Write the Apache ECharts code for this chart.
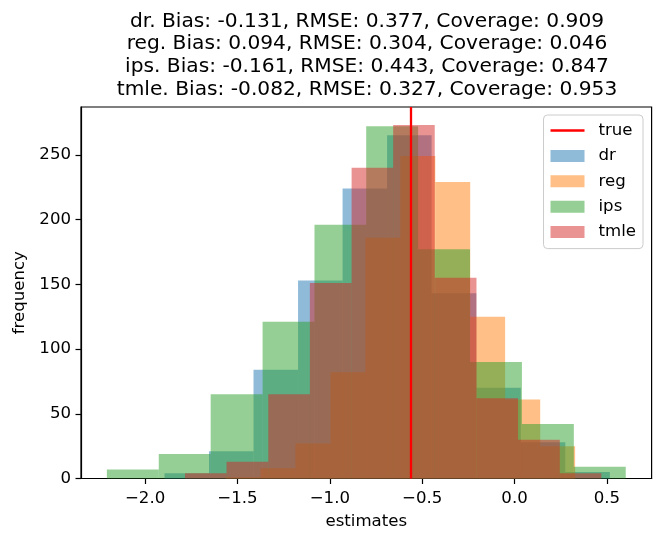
<!DOCTYPE html>
<html>
<head>
<meta charset="utf-8">
<script src="https://cdn.jsdelivr.net/npm/echarts@6/dist/echarts.min.js"></script>
<style>
  html, body { margin: 0; padding: 0; background: #ffffff; }
  #chart { width: 664px; height: 543px; }
</style>
</head>
<body>
<div id="chart"></div>
<script>
// ---- data ----
const titleLines = [
  'dr. Bias: -0.131, RMSE: 0.377, Coverage: 0.909',
  'reg. Bias: 0.094, RMSE: 0.304, Coverage: 0.046',
  'ips. Bias: -0.161, RMSE: 0.443, Coverage: 0.847',
  'tmle. Bias: -0.082, RMSE: 0.327, Coverage: 0.953'
];
const trueValue = -0.56;
const xTicks = [-2.0, -1.5, -1.0, -0.5, 0.0, 0.5];
const yTicks = [0, 50, 100, 150, 200, 250];

const drEdges   = [-1.895, -1.654, -1.413, -1.172, -0.931, -0.690, -0.449, -0.207, 0.034, 0.275, 0.516];
const drCounts  = [4, 21, 84, 153, 224, 265, 143, 70, 28, 5];

const regEdges  = [-1.564, -1.375, -1.186, -0.996, -0.807, -0.618, -0.429, -0.240, -0.051, 0.139, 0.328];
const regCounts = [1, 8, 27, 82, 186, 249, 229, 125, 61, 25];

const ipsEdges  = [-2.207, -1.926, -1.645, -1.364, -1.083, -0.803, -0.522, -0.241, 0.040, 0.321, 0.602];
const ipsCounts = [7, 19, 65, 121, 196, 272, 177, 90, 42, 9];

const tmleEdges  = [-1.784, -1.559, -1.333, -1.108, -0.882, -0.657, -0.432, -0.206, 0.019, 0.245, 0.470];
const tmleCounts = [4, 13, 65, 151, 240, 273, 155, 62, 30, 4];

// ---- chart ----
const FONT = 'DejaVu Sans';
const FS = 16.6;
function bins(edges, counts) {
  return counts.map((c, i) => [edges[i], edges[i + 1], c]);
}
function renderBar(params, api) {
  const top = api.coord([api.value(0), api.value(2)]);
  const bot = api.coord([api.value(1), 0]);
  return {
    type: 'rect',
    shape: { x: top[0], y: top[1], width: bot[0] - top[0], height: bot[1] - top[1] },
    style: api.style()
  };
}
function histSeries(name, color, edges, counts) {
  return {
    name: name,
    type: 'custom',
    renderItem: renderBar,
    itemStyle: { color: color },
    encode: { x: [0, 1], y: 2 },
    data: bins(edges, counts),
    silent: true
  };
}
const fmtX = v => v.toFixed(1).replace('-', '\u2212');

const chart = echarts.init(document.getElementById('chart'), null, { renderer: 'canvas' });
chart.setOption({
  animation: false,
  backgroundColor: '#ffffff',
  title: {
    text: titleLines.join('\n'),
    left: 367,
    top: 10,
    padding: 0,
    textAlign: 'center',
    textStyle: { fontFamily: FONT, fontSize: 20.2, fontWeight: 'normal', color: '#000', lineHeight: 22.7 }
  },
  grid: {
    left: 81, right: 12.4, top: 107, bottom: 64.5,
    show: true, borderColor: '#000', borderWidth: 1.2, backgroundColor: 'transparent'
  },
  legend: {
    data: [
      { name: 'true', icon: 'path://M0,0H34V2.5H0Z' },
      { name: 'dr', icon: 'rect' },
      { name: 'reg', icon: 'rect' },
      { name: 'ips', icon: 'rect' },
      { name: 'tmle', icon: 'rect' }
    ],
    orient: 'vertical',
    right: 21,
    top: 115,
    itemWidth: 34,
    itemHeight: 12,
    itemGap: 8.4,
    padding: [7, 7, 8, 7],
    borderColor: '#cccccc',
    borderWidth: 1,
    borderRadius: 4,
    backgroundColor: 'rgba(255,255,255,0.8)',
    textStyle: { fontFamily: FONT, fontSize: FS, lineHeight: 17, color: '#000', padding: [0, 0, 0, 9] },
    selectedMode: false
  },
  xAxis: {
    type: 'value',
    min: -2.347,
    max: 0.742,
    name: 'estimates',
    nameLocation: 'middle',
    nameGap: 35,
    nameTextStyle: { fontFamily: FONT, fontSize: FS, color: '#000' },
    axisLine: { show: true, onZero: false, lineStyle: { color: '#000', width: 1.2 } },
    axisTick: { show: true, length: 5.5, lineStyle: { color: '#000', width: 1.2 }, customValues: xTicks },
    axisLabel: { fontFamily: FONT, fontSize: FS, color: '#000', margin: 11.5, customValues: xTicks, formatter: fmtX },
    splitLine: { show: false }
  },
  yAxis: {
    type: 'value',
    min: 0,
    max: 286.9,
    name: 'frequency',
    nameLocation: 'middle',
    nameGap: 47,
    nameTextStyle: { fontFamily: FONT, fontSize: FS, color: '#000' },
    axisLine: { show: true, onZero: false, lineStyle: { color: '#000', width: 1.2 } },
    axisTick: { show: true, length: 5.5, lineStyle: { color: '#000', width: 1.2 }, customValues: yTicks },
    axisLabel: { fontFamily: FONT, fontSize: FS, color: '#000', margin: 10, customValues: yTicks },
    splitLine: { show: false }
  },
  series: [
    histSeries('dr',   'rgba(31,119,180,0.5)', drEdges, drCounts),
    histSeries('reg',  'rgba(255,127,14,0.5)', regEdges, regCounts),
    histSeries('ips',  'rgba(44,160,44,0.5)',  ipsEdges, ipsCounts),
    histSeries('tmle', 'rgba(214,39,40,0.5)',  tmleEdges, tmleCounts),
    {
      name: 'true',
      type: 'line',
      data: [],
      symbol: 'none',
      showSymbol: false,
      z: 10,
      itemStyle: { color: '#ff0000' },
      lineStyle: { color: '#ff0000', width: 2.3 },
      markLine: {
        symbol: 'none',
        silent: true,
        animation: false,
        label: { show: false },
        lineStyle: { color: '#ff0000', width: 2.3, type: 'solid' },
        data: [{ xAxis: trueValue }]
      }
    }
  ]
});
</script>
</body>
</html>
